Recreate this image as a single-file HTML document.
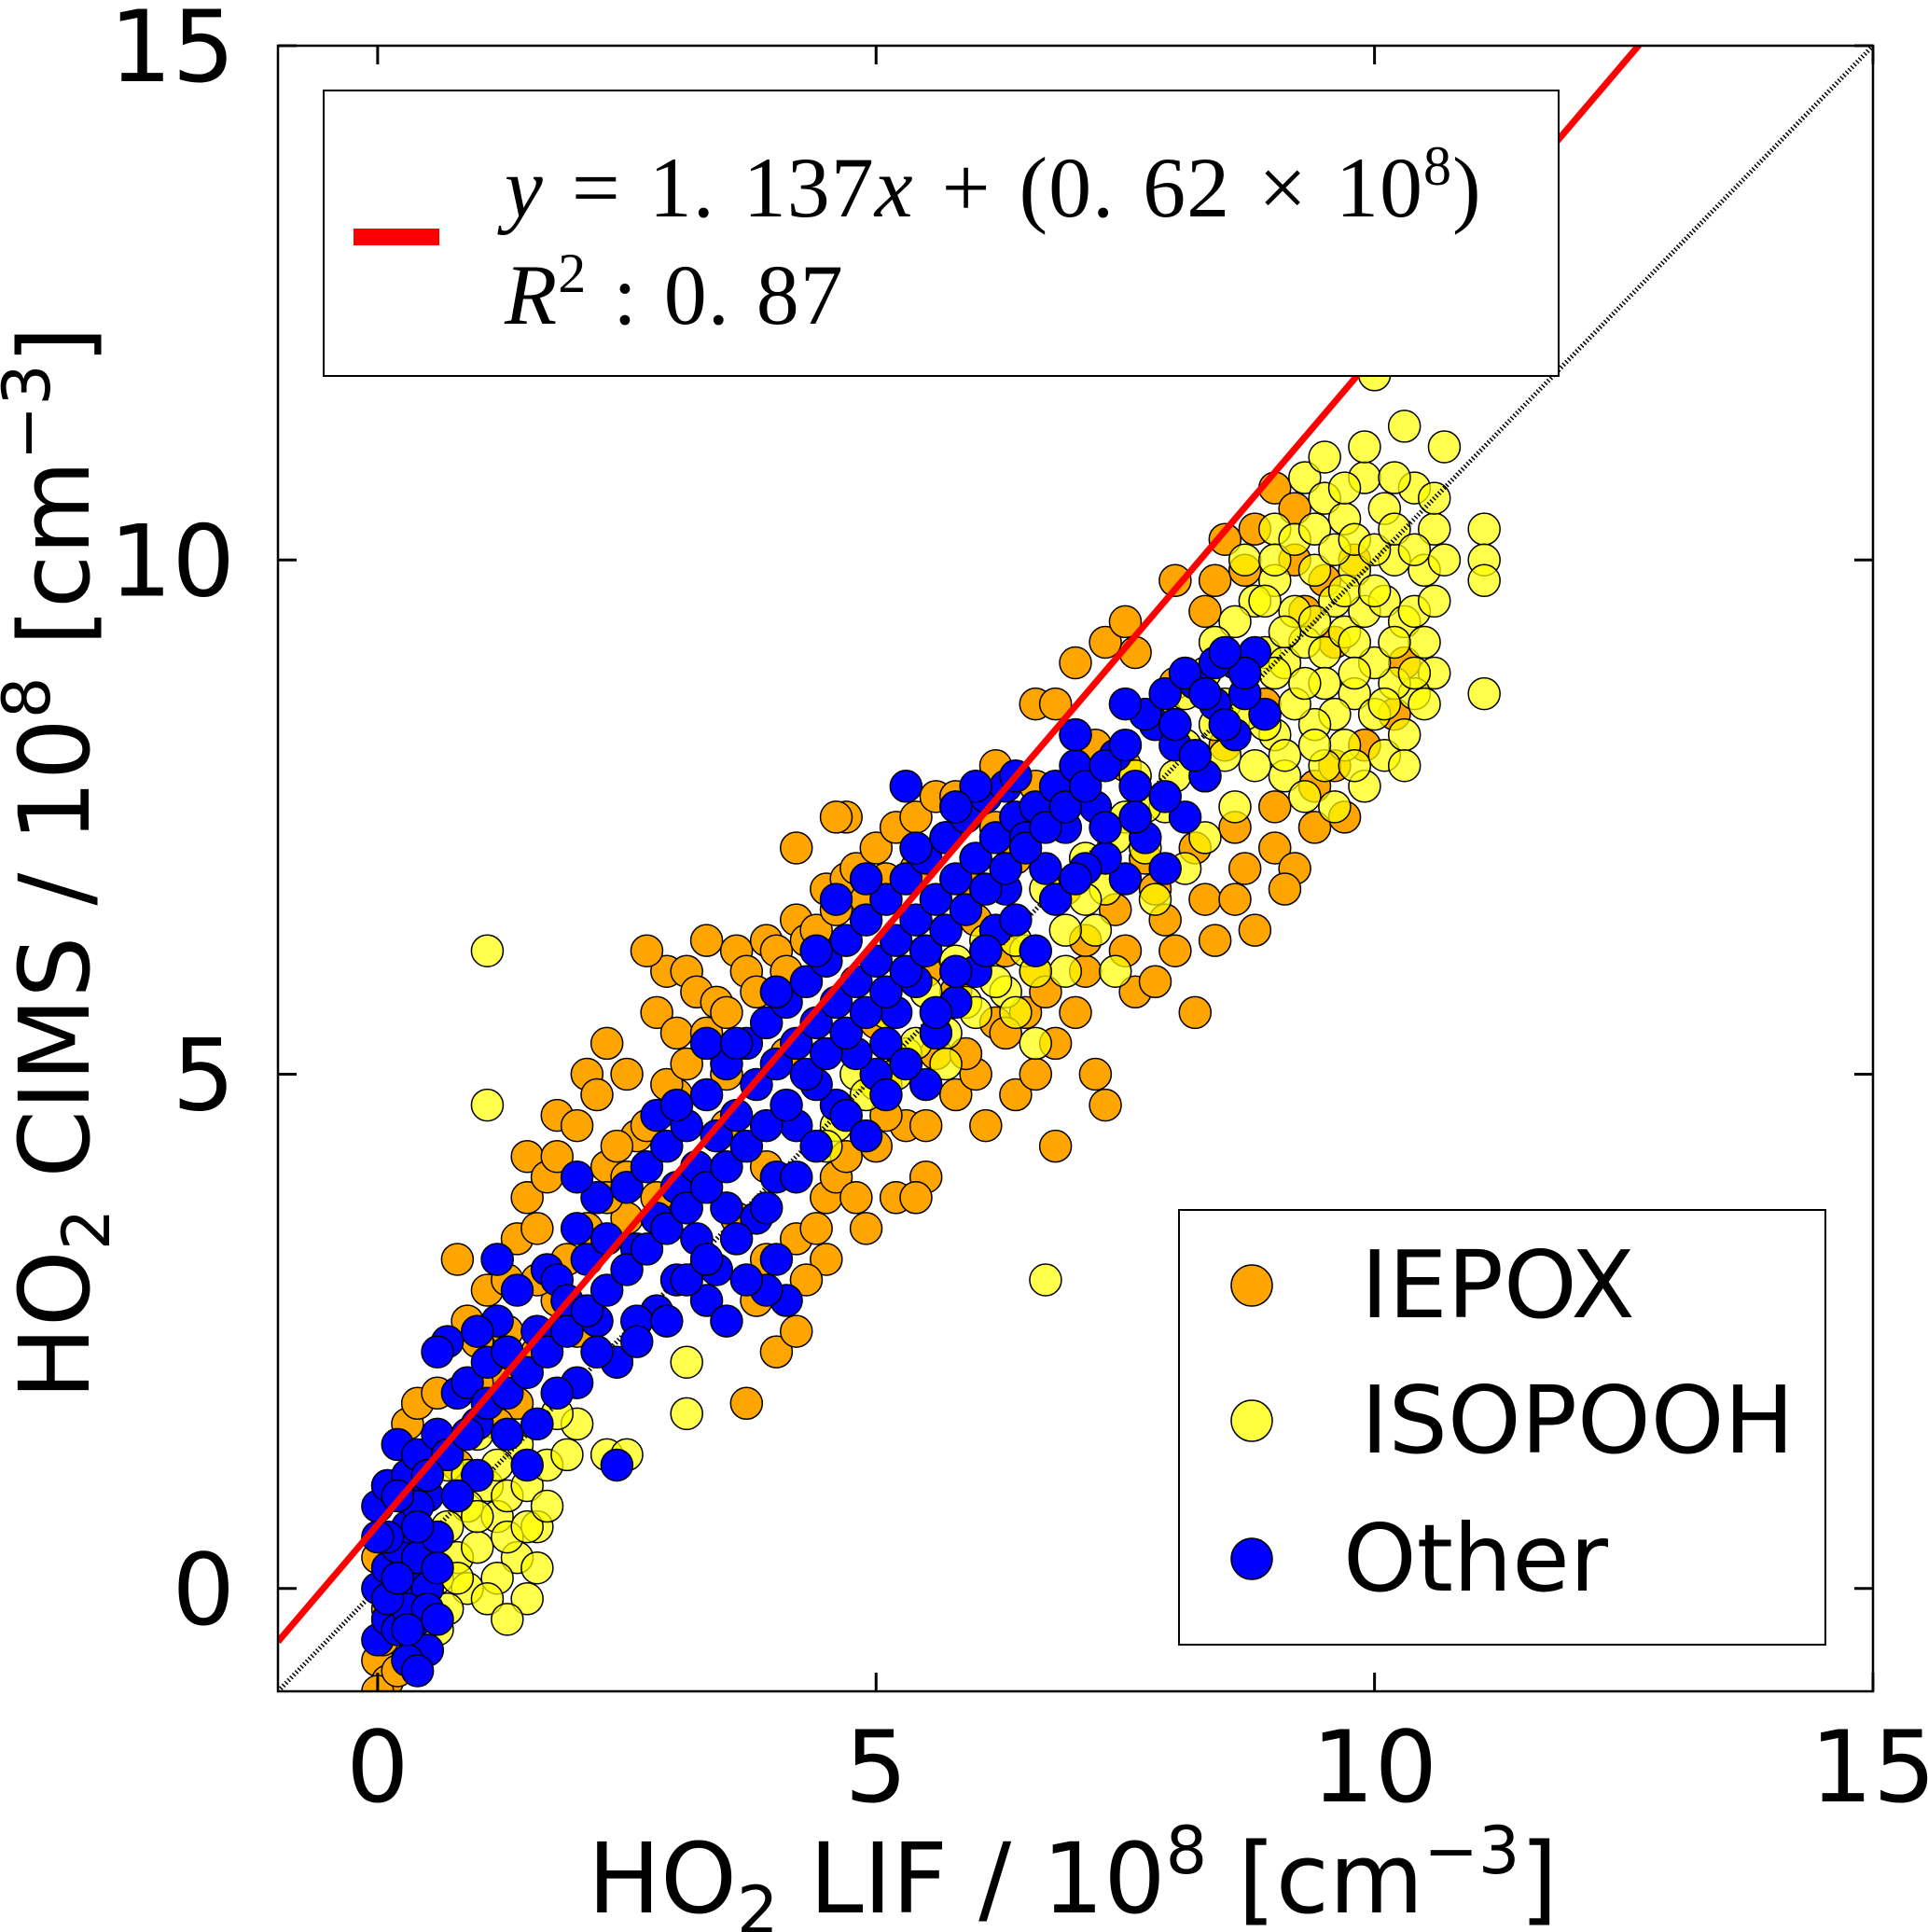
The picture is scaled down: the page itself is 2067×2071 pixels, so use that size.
<!DOCTYPE html>
<html><head><meta charset="utf-8"><style>
html,body{margin:0;padding:0;background:#fff;}
svg{display:block;font-family:"DejaVu Sans","Liberation Sans",sans-serif;}
</style></head><body>
<svg id="chart" width="2067" height="2071" viewBox="0 0 2067 2071" xmlns="http://www.w3.org/2000/svg">
<defs><clipPath id="plotclip"><rect x="298" y="49" width="1710" height="1764"/></clipPath></defs>
<g id="marks" clip-path="url(#plotclip)"></g>
<rect x="298" y="49" width="1710" height="1764" fill="none" stroke="#000" stroke-width="2.5"/>
<g id="axes"></g>
<g>
<rect x="347" y="97" width="1324" height="306" fill="#fff" stroke="#000" stroke-width="2"/>
<rect x="379" y="245" width="92" height="18" fill="#ff0000"/>
<text x="541" y="232" font-family="Liberation Serif, serif" font-size="92" word-spacing="6" letter-spacing="1"><tspan font-style="italic">y</tspan> = 1. 137<tspan font-style="italic">x</tspan> + (0. 62 × 10<tspan dy="-34" font-size="60">8</tspan><tspan dy="34">)</tspan></text>
<text x="541" y="347" font-family="Liberation Serif, serif" font-size="92" word-spacing="4" letter-spacing="1"><tspan font-style="italic">R</tspan><tspan dy="-34" font-size="60">2</tspan><tspan dy="34"> : 0. 87</tspan></text>
</g>
<g>
<rect x="1264" y="1297" width="693" height="466" fill="#fff" stroke="#000" stroke-width="2"/>
<circle cx="1342" cy="1378" r="22" fill="#ffa500" stroke="#000" stroke-width="1.5"/>
<text x="1459" y="1412" font-size="100">IEPOX</text>
<circle cx="1342" cy="1523" r="22" fill="#ffff40" stroke="#000" stroke-width="1.5"/>
<text x="1459" y="1557" font-size="100">ISOPOOH</text>
<circle cx="1342" cy="1671" r="22" fill="#0000ff" stroke="#000" stroke-width="1.5"/>
<text x="1440" y="1705" font-size="100">Other</text>
</g>
<text x="1150" y="2050" text-anchor="middle" font-size="104">HO<tspan dy="22" font-size="70">2</tspan><tspan dy="-22"> LIF / 10</tspan><tspan dy="-42" font-size="70">8</tspan><tspan dy="42"> [cm</tspan><tspan dy="-42" font-size="70">−3</tspan><tspan dy="42">]</tspan></text>
<text transform="translate(95,925) rotate(-90)" text-anchor="middle" font-size="104">HO<tspan dy="22" font-size="70">2</tspan><tspan dy="-22"> CIMS / 10</tspan><tspan dy="-42" font-size="70">8</tspan><tspan dy="42"> [cm</tspan><tspan dy="-42" font-size="70">−3</tspan><tspan dy="42">]</tspan></text>
</svg>
<script>
const xTicks = [0, 5, 10, 15];
const yTicks = [0, 5, 10, 15];
const fitSlope = 1.137;
const fitIntercept = 0.62;
const iepoxPts = [[0.0,-0.7],[0.05,-0.5],[0.1,-0.2],[0.0,0.3],[0.1,1.0],[0.3,1.6],[0.4,1.8],[0.6,1.9],[0.8,3.2],[0.9,2.6],[1.0,2.4],[1.1,2.9],[1.2,2.0],[1.3,3.0],[1.4,3.4],[1.5,3.8],[1.5,4.2],[1.6,3.5],[1.7,4.0],[1.8,4.6],[1.8,4.2],[1.9,3.2],[2.0,4.5],[2.1,5.0],[2.2,4.8],[2.3,5.3],[2.3,4.1],[2.5,5.0],[2.6,4.4],[2.8,5.6],[2.9,6.0],[3.0,5.4],[3.1,6.0],[3.2,5.8],[3.3,6.3],[3.4,5.7],[3.6,6.2],[3.7,6.0],[3.9,6.3],[4.0,6.2],[4.2,6.5],[4.3,6.3],[4.5,6.8],[4.7,6.9],[4.8,7.0],[5.0,7.2],[5.2,7.4],[5.4,7.5],[5.6,7.7],[4.7,7.5],[4.2,7.2],[5.8,7.7],[6.2,8.0],[6.6,8.6],[7.0,9.0],[7.3,9.2],[7.5,9.4],[7.6,9.1],[8.0,9.8],[8.5,10.2],[8.8,10.3],[9.0,10.7],[9.2,10.5],[4.0,2.3],[4.2,2.5],[3.8,2.8],[4.5,3.2],[4.3,3.0],[3.7,1.8],[4.2,3.4],[4.5,3.8],[4.6,4.0],[4.8,3.8],[5.0,4.3],[5.2,3.8],[5.3,4.5],[5.5,4.0],[5.6,5.2],[5.8,4.8],[6.0,5.0],[6.1,4.5],[6.2,5.5],[6.4,4.8],[6.5,5.6],[6.6,5.0],[6.8,5.3],[6.8,4.3],[7.0,5.6],[7.1,6.0],[7.2,5.0],[7.3,4.7],[7.5,6.2],[7.6,5.8],[7.8,5.9],[7.9,6.5],[8.0,6.2],[8.2,5.6],[8.3,6.7],[8.4,6.3],[8.6,6.7],[8.7,7.0],[8.8,6.4],[9.0,7.2],[9.2,7.0],[9.1,6.8],[9.4,7.8],[9.6,8.0],[9.7,7.5],[9.9,8.2],[10.2,8.5],[10.3,9.0],[9.5,9.8],[8.0,8.8],[7.5,8.0],[6.0,6.5],[5.5,6.0],[5.0,5.5],[3.5,4.5],[2.8,3.8],[2.5,3.6],[2.0,2.5],[1.8,2.8],[1.4,1.8],[1.6,2.3],[1.2,1.6],[0.8,1.2],[0.5,0.9],[0.2,0.2],[0.1,-0.9],[3.9,4.1],[5.8,5.8],[6.3,6.2],[6.9,6.8],[8.5,8.2],[9.3,9.5],[9.8,10.0],[2.7,6.2],[1.2,3.2],[5.4,3.8],[4.9,3.5],[3.6,3.6],[4.6,7.5],[3.5,5.0],[6.8,8.6],[8.3,9.5],[7.2,8.2],[6.4,7.1],[5.9,6.9],[3.0,4.8],[2.4,4.3],[4.1,5.2],[5.1,4.9],[6.6,6.0],[7.7,7.1],[8.9,8.6],[9.6,9.2],[2.1,3.5],[2.3,3.8],[2.5,4.0],[2.7,4.5],[2.9,4.9],[3.1,5.1],[3.3,5.4],[3.5,5.6],[3.8,5.8],[4.1,6.0],[4.4,6.4],[4.6,6.6],[4.9,6.7],[5.1,6.9],[5.4,7.0],[5.7,7.3],[1.0,2.0],[1.3,2.5],[1.6,3.0],[0.6,1.4],[0.4,1.2],[3.9,3.2],[4.4,3.5],[4.7,4.2],[5.1,4.6],[5.5,4.5],[5.9,5.2],[6.3,5.4],[6.7,5.8],[7.1,6.3],[7.4,6.6],[7.8,6.8],[8.2,7.2],[8.6,7.4],[9.0,7.6],[9.4,7.4],[7.0,8.3],[6.6,7.8],[6.2,7.4],[8.4,9.8],[8.7,9.9],[9.2,10.0],[0.0,-1.0],[0.2,-0.8]];
const isopoohPts = [[1.1,6.2],[1.1,4.7],[3.1,2.2],[3.1,1.7],[6.7,3.0],[2.3,1.3],[2.5,1.3],[11.1,10.3],[11.1,10.0],[11.1,9.8],[11.1,8.7],[10.3,11.3],[10.0,11.8],[10.7,11.1],[9.0,10.3],[9.3,10.8],[9.5,10.6],[9.7,10.4],[9.9,10.8],[10.1,10.5],[10.4,10.7],[10.6,10.3],[10.5,9.9],[10.2,10.0],[9.8,9.9],[9.6,9.6],[9.4,9.9],[9.2,9.5],[9.0,9.8],[8.8,9.6],[8.6,9.4],[8.4,9.2],[8.3,8.9],[8.5,8.6],[8.7,8.9],[8.9,9.1],[9.1,9.0],[9.3,9.2],[9.5,9.1],[9.7,9.3],[9.9,9.5],[10.1,9.6],[10.3,9.4],[10.5,9.2],[10.6,8.9],[10.4,8.7],[10.2,8.8],[10.0,9.0],[9.8,8.7],[9.6,8.5],[9.4,8.4],[9.2,8.6],[9.0,8.3],[8.8,8.0],[9.1,7.9],[9.3,7.7],[9.6,7.6],[9.9,7.8],[10.1,8.1],[10.3,8.3],[10.5,8.6],[10.3,8.0],[9.7,8.2],[9.5,8.0],[8.6,7.6],[8.3,7.9],[8.1,8.2],[7.9,7.6],[7.7,7.2],[7.5,7.5],[7.3,6.8],[7.1,7.1],[6.9,7.6],[6.7,6.8],[7.6,7.9],[7.9,8.5],[8.1,8.7],[7.8,6.7],[8.1,7.0],[8.3,7.3],[6.5,6.2],[6.3,5.8],[6.1,6.3],[5.9,5.7],[5.7,5.4],[5.5,5.8],[5.3,5.2],[5.1,5.6],[5.0,4.9],[5.2,5.0],[4.8,5.0],[4.6,4.5],[6.9,6.0],[7.2,6.4],[6.6,5.3],[6.4,5.6],[5.8,6.1],[7.4,6.0],[8.5,8.1],[8.9,8.4],[1.1,1.0],[0.9,0.8],[0.7,0.6],[0.5,0.5],[0.4,0.2],[0.6,0.1],[0.8,0.3],[1.0,0.4],[1.2,0.7],[1.3,0.9],[1.5,1.0],[1.6,0.6],[1.7,1.2],[1.4,0.3],[1.6,0.2],[1.2,0.1],[0.9,0.0],[1.1,-0.1],[1.5,-0.1],[1.9,1.3],[2.0,1.6],[1.8,1.7],[1.4,1.4],[0.3,-0.1],[0.1,-0.4],[0.2,0.4],[0.7,1.2],[1.0,1.5],[0.6,-0.4],[1.3,-0.3],[8.7,10.0],[9.0,10.0],[9.2,10.2],[9.4,10.3],[9.6,10.1],[9.8,10.2],[10.0,10.1],[10.2,10.3],[10.4,10.1],[9.1,9.3],[9.4,9.4],[9.7,9.7],[10.0,9.7],[10.2,9.2],[10.4,9.5],[9.8,9.2],[9.5,8.8],[9.8,8.9],[10.0,8.5],[9.3,8.8],[9.0,8.9],[8.7,8.5],[9.1,8.1],[9.4,8.2],[9.8,8.0],[10.1,8.6],[10.4,8.9],[10.6,9.6],[10.7,10.0],[10.6,10.6],[10.2,10.8],[9.7,10.7],[9.5,11.0],[9.9,11.1],[8.9,9.6],[8.6,9.0],[8.4,8.4],[8.0,7.9],[7.7,7.6],[7.4,7.3],[7.1,6.7],[6.9,6.4],[6.6,6.0],[6.4,6.3],[6.2,5.9],[6.0,5.6],[5.7,5.1],[5.4,5.3],[4.9,4.8],[4.5,4.3],[0.8,0.1],[1.0,0.7],[1.3,0.5],[1.5,0.6],[1.7,0.8],[0.9,1.1],[1.2,1.2],[0.5,0.2],[0.7,-0.2]];
const otherPts = [[0.0,-0.5],[0.1,-0.3],[0.2,-0.1],[0.3,0.1],[0.0,0.0],[0.1,0.2],[0.2,0.4],[0.3,0.6],[0.4,0.3],[0.5,0.0],[0.4,-0.3],[0.5,-0.6],[0.3,-0.7],[0.2,-0.4],[0.1,0.5],[0.0,0.8],[0.1,1.0],[0.3,1.1],[0.2,1.4],[0.4,1.3],[0.5,0.9],[0.6,0.5],[0.4,0.8],[0.3,-0.2],[0.5,-0.2],[0.6,1.5],[0.8,1.9],[0.7,2.4],[0.9,2.0],[1.0,1.6],[1.1,2.2],[1.2,2.6],[1.3,2.3],[1.4,2.9],[1.5,1.2],[1.6,2.5],[1.7,3.1],[1.8,3.0],[1.9,2.8],[2.0,3.5],[2.1,3.2],[2.2,3.8],[2.3,3.4],[2.4,1.2],[2.4,2.2],[2.2,2.6],[2.5,3.9],[2.6,3.3],[2.7,4.1],[2.8,3.6],[2.9,4.3],[3.0,3.9],[3.1,4.5],[3.2,4.1],[3.3,4.8],[3.4,4.4],[3.5,5.1],[3.6,4.6],[3.7,5.3],[3.8,4.9],[3.9,5.5],[4.0,5.1],[4.1,5.7],[4.2,5.3],[4.3,5.9],[4.4,5.5],[4.5,6.1],[4.6,5.7],[4.7,6.3],[4.8,5.9],[4.9,6.5],[5.0,6.1],[5.1,6.7],[5.2,6.3],[5.3,6.9],[5.4,6.5],[5.5,7.1],[5.6,6.7],[5.7,7.3],[5.8,6.9],[5.9,7.5],[6.0,7.1],[6.1,7.7],[6.2,7.3],[6.3,7.8],[6.4,7.5],[6.5,7.3],[6.6,7.6],[6.7,7.0],[6.8,7.8],[6.9,7.4],[7.0,8.0],[7.2,7.6],[7.4,8.1],[7.6,7.8],[7.8,8.4],[8.0,8.2],[8.2,8.8],[8.4,8.6],[8.6,9.0],[8.8,9.1],[8.3,7.9],[8.6,8.3],[8.9,8.5],[8.1,7.5],[7.7,7.3],[7.5,6.9],[7.3,7.1],[7.9,7.0],[6.2,6.4],[6.0,6.0],[5.8,5.7],[5.6,5.4],[5.4,5.9],[5.2,5.6],[5.0,5.0],[4.8,5.2],[4.6,4.7],[4.4,4.9],[4.2,4.5],[4.0,4.0],[3.8,3.6],[4.0,3.2],[4.1,2.8],[3.9,2.9],[3.6,3.4],[3.4,3.1],[3.2,3.4],[3.0,3.0],[2.8,2.7],[2.6,2.6],[3.3,2.8],[3.5,3.7],[5.1,5.3],[5.5,4.9],[6.3,6.8],[6.6,6.2],[7.1,7.0],[5.3,7.8],[6.0,7.8],[4.6,6.7],[3.3,5.3],[2.0,4.0],[1.2,3.2],[0.6,2.3],[1.0,2.5],[0.7,1.3],[0.9,1.5],[1.1,1.8],[1.3,1.9],[1.5,2.1],[1.7,2.3],[1.9,2.5],[2.1,2.7],[2.3,2.9],[2.5,3.1],[2.7,3.3],[2.9,3.5],[3.1,3.7],[3.3,3.9],[3.5,4.1],[3.7,4.3],[3.9,4.5],[4.1,4.7],[4.3,5.0],[4.5,5.2],[4.7,5.4],[4.9,5.6],[5.1,5.8],[5.3,6.0],[5.5,6.2],[5.7,6.4],[5.9,6.6],[6.1,6.8],[6.3,7.0],[6.5,7.2],[6.7,7.4],[6.9,7.6],[7.1,7.8],[7.3,8.0],[7.5,8.2],[7.7,8.5],[7.9,8.7],[8.1,8.9],[8.4,9.0],[2.0,2.0],[2.2,2.3],[2.6,2.4],[2.9,2.6],[3.1,3.0],[3.3,3.2],[3.5,2.6],[3.7,3.0],[3.9,3.7],[4.2,4.0],[4.4,4.3],[4.7,4.6],[4.9,4.4],[5.1,4.8],[5.3,5.1],[5.6,5.6],[5.8,6.0],[6.1,6.2],[6.4,6.5],[6.8,6.7],[7.0,6.9],[7.3,7.4],[7.6,7.5],[7.9,7.7],[8.2,8.1],[8.5,8.4],[8.7,8.7],[1.0,1.1],[1.3,1.5],[1.6,1.6],[1.8,1.9],[0.8,0.9],[2.8,4.6],[3.0,4.7],[3.6,5.3],[4.0,5.8],[4.4,6.2],[4.9,6.9],[5.4,7.2],[5.8,7.6],[6.4,7.9],[7.0,8.3],[7.5,8.6],[8.0,8.4],[8.3,8.7],[8.7,8.9],[8.5,9.1],[0.2,0.9],[0.4,0.6],[0.1,-0.1],[0.3,-0.4],[0.4,-0.8],[0.6,-0.3],[0.6,0.2],[0.2,0.1],[0.0,0.5],[0.5,1.1]];

const X0 = 298, X1 = 2008, Y0 = 1813, Y1 = 49;
const XMIN = -1, XMAX = 15, YMIN = -1, YMAX = 15;
function sx(v){ return X0 + (v - XMIN) / (XMAX - XMIN) * (X1 - X0); }
function sy(v){ return Y0 - (v - YMIN) / (YMAX - YMIN) * (Y0 - Y1); }
const NS = 'http://www.w3.org/2000/svg';
const marks = document.getElementById('marks');
const axes = document.getElementById('axes');

function drawSeries(pts, fill, opacity, name){
  const g = document.createElementNS(NS, 'g');
  
  
  pts.forEach(p => {
    const c = document.createElementNS(NS, 'circle');
    
    
    c.setAttribute('cx', sx(p[0]));
    c.setAttribute('cy', sy(p[1]));
    c.setAttribute('r', 17);
    c.setAttribute('fill', fill);
    c.setAttribute('fill-opacity', opacity);
    c.setAttribute('stroke', '#000');
    c.setAttribute('stroke-width', 1.5);
    g.appendChild(c);
  });
  marks.appendChild(g);
}
drawSeries(iepoxPts, '#ffa500', 1, 'iepox');
drawSeries(isopoohPts, '#ffff00', 0.7, 'isopooh');

const one = document.createElementNS(NS, 'line');


one.setAttribute('x1', sx(-1)); one.setAttribute('y1', sy(-1));
one.setAttribute('x2', sx(15)); one.setAttribute('y2', sy(15));
one.setAttribute('stroke', '#000'); one.setAttribute('stroke-width', 5);
one.setAttribute('stroke-dasharray', '1.5 2.5');
marks.appendChild(one);

drawSeries(otherPts, '#0000ff', 1, 'other');

const fit = document.createElementNS(NS, 'line');


fit.setAttribute('x1', sx(-1)); fit.setAttribute('y1', sy(fitSlope * -1 + fitIntercept));
fit.setAttribute('x2', sx(15)); fit.setAttribute('y2', sy(fitSlope * 15 + fitIntercept));
fit.setAttribute('stroke', '#ff0000'); fit.setAttribute('stroke-width', 7);
marks.appendChild(fit);

xTicks.forEach(t => {
  const x = sx(t);
  [[Y0, Y0 - 20], [Y1, Y1 + 20]].forEach(pp => {
    const l = document.createElementNS(NS, 'line');
    
    
    l.setAttribute('x1', x); l.setAttribute('x2', x);
    l.setAttribute('y1', pp[0]); l.setAttribute('y2', pp[1]);
    l.setAttribute('stroke', '#000'); l.setAttribute('stroke-width', 3);
    axes.appendChild(l);
  });
  const tx = document.createElementNS(NS, 'text');
  
  
  tx.setAttribute('x', x); tx.setAttribute('y', 1931);
  tx.setAttribute('text-anchor', 'middle'); tx.setAttribute('font-size', '106');
  tx.textContent = t;
  axes.appendChild(tx);
});
yTicks.forEach(t => {
  const y = sy(t);
  [[X0, X0 + 20], [X1, X1 - 20]].forEach(pp => {
    const l = document.createElementNS(NS, 'line');
    
    
    l.setAttribute('y1', y); l.setAttribute('y2', y);
    l.setAttribute('x1', pp[0]); l.setAttribute('x2', pp[1]);
    l.setAttribute('stroke', '#000'); l.setAttribute('stroke-width', 3);
    axes.appendChild(l);
  });
  const tx = document.createElementNS(NS, 'text');
  
  
  tx.setAttribute('x', 252); tx.setAttribute('y', y + 38);
  tx.setAttribute('text-anchor', 'end'); tx.setAttribute('font-size', '106');
  tx.textContent = t;
  axes.appendChild(tx);
});
</script>
</body></html>
